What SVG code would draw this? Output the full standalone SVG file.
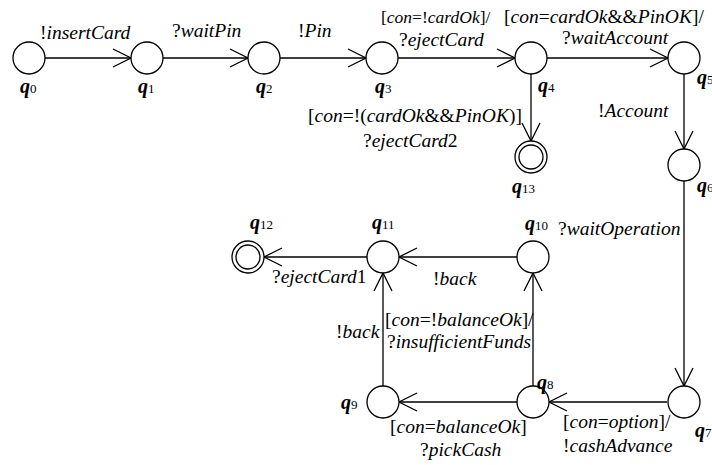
<svg xmlns="http://www.w3.org/2000/svg" width="712" height="465" viewBox="0 0 712 465" font-family="'Liberation Serif', 'Times New Roman', serif">
<style>
.n{fill:#fff;stroke:#000;stroke-width:1.3}
.e{fill:none;stroke:#000;stroke-width:1.3;marker-end:url(#arr)}
.lb{font-size:19.5px;fill:#000}
.it{font-style:italic}
.ql{font-size:20px;fill:#000}
.qq{font-style:italic;font-weight:bold}
.sub{font-size:13px}
</style>
<defs>
<marker id="arr" markerUnits="userSpaceOnUse" orient="auto" refX="0" refY="0" markerWidth="24" markerHeight="24" overflow="visible">
<path d="M-18,-9 L0,0 L-18,9" fill="none" stroke="#000" stroke-width="1.3"/>
</marker>
</defs>
<rect width="712" height="465" fill="#fff"/>
<g id="connectors">
<line class="e" x1="45" y1="58" x2="131" y2="58"/>
<line class="e" x1="163" y1="58" x2="248" y2="58"/>
<line class="e" x1="280" y1="58" x2="366" y2="58"/>
<line class="e" x1="398" y1="58" x2="515" y2="58"/>
<line class="e" x1="547" y1="58" x2="668" y2="58"/>
<line class="e" x1="531" y1="74" x2="531" y2="141"/>
<line class="e" x1="684" y1="74" x2="684" y2="149"/>
<line class="e" x1="684" y1="181" x2="684" y2="386"/>
<line class="e" x1="667" y1="402" x2="549" y2="402"/>
<line class="e" x1="517" y1="402" x2="399" y2="402"/>
<line class="e" x1="533" y1="386" x2="533" y2="273"/>
<line class="e" x1="383" y1="386" x2="383" y2="273"/>
<line class="e" x1="517" y1="257" x2="399" y2="257"/>
<line class="e" x1="367" y1="257" x2="264" y2="257"/>
</g>
<g id="edge-labels" class="lb">
<text class="lb" font-family="Liberation Serif" x="40" y="39">!<tspan class="it">insertCard</tspan></text>
<text class="lb" font-family="Liberation Serif" x="172" y="37">?<tspan class="it">waitPin</tspan></text>
<text class="lb" font-family="Liberation Serif" x="298" y="37">!<tspan class="it">Pin</tspan></text>
<text class="lb" font-family="Liberation Serif" font-size="17.5" style="font-size:17.5px" x="381" y="23">[<tspan class="it">con</tspan>=!<tspan class="it">cardOk</tspan>]/</text>
<text class="lb" font-family="Liberation Serif" x="399" y="46">?<tspan class="it">ejectCard</tspan></text>
<text class="lb" font-family="Liberation Serif" x="504" y="23">[<tspan class="it">con</tspan>=<tspan class="it">cardOk</tspan>&amp;&amp;<tspan class="it">PinOK</tspan>]/</text>
<text class="lb" font-family="Liberation Serif" x="562" y="44">?<tspan class="it">waitAccount</tspan></text>
<text class="lb" font-family="Liberation Serif" x="308" y="122">[<tspan class="it">con</tspan>=!(<tspan class="it">cardOk</tspan>&amp;&amp;<tspan class="it">PinOK</tspan>)]</text>
<text class="lb" font-family="Liberation Serif" x="363" y="147">?<tspan class="it">ejectCard</tspan>2</text>
<text class="lb" font-family="Liberation Serif" x="598" y="117">!<tspan class="it">Account</tspan></text>
<text class="lb" font-family="Liberation Serif" x="558" y="235">?<tspan class="it">waitOperation</tspan></text>
<text class="lb" font-family="Liberation Serif" x="433" y="285">!<tspan class="it">back</tspan></text>
<text class="lb" font-family="Liberation Serif" x="272" y="283">?<tspan class="it">ejectCard</tspan>1</text>
<text class="lb" font-family="Liberation Serif" x="336" y="338">!<tspan class="it">back</tspan></text>
<text class="lb" font-family="Liberation Serif" x="385" y="326">[<tspan class="it">con</tspan>=!<tspan class="it">balanceOk</tspan>]/</text>
<text class="lb" font-family="Liberation Serif" x="387" y="348">?<tspan class="it">insufficientFunds</tspan></text>
<text class="lb" font-family="Liberation Serif" x="390" y="433">[<tspan class="it">con</tspan>=<tspan class="it">balanceOk</tspan>]</text>
<text class="lb" font-family="Liberation Serif" x="420" y="456">?<tspan class="it">pickCash</tspan></text>
<text class="lb" font-family="Liberation Serif" x="563" y="428">[<tspan class="it">con</tspan>=<tspan class="it">option</tspan>]/</text>
<text class="lb" font-family="Liberation Serif" x="563" y="452">!<tspan class="it">cashAdvance</tspan></text>
</g>
<g id="q0"><circle class="n" cx="29" cy="58" r="16"/><text class="ql" font-family="Liberation Serif" x="20" y="93"><tspan class="qq">q</tspan><tspan class="sub">0</tspan></text></g>
<g id="q1"><circle class="n" cx="147" cy="58" r="16"/><text class="ql" font-family="Liberation Serif" x="138" y="93"><tspan class="qq">q</tspan><tspan class="sub">1</tspan></text></g>
<g id="q2"><circle class="n" cx="264" cy="58" r="16"/><text class="ql" font-family="Liberation Serif" x="256" y="93"><tspan class="qq">q</tspan><tspan class="sub">2</tspan></text></g>
<g id="q3"><circle class="n" cx="382" cy="58" r="16"/><text class="ql" font-family="Liberation Serif" x="375" y="93"><tspan class="qq">q</tspan><tspan class="sub">3</tspan></text></g>
<g id="q4"><circle class="n" cx="531" cy="58" r="16"/><text class="ql" font-family="Liberation Serif" x="538" y="92"><tspan class="qq">q</tspan><tspan class="sub">4</tspan></text></g>
<g id="q5"><circle class="n" cx="684" cy="58" r="16"/><text class="ql" font-family="Liberation Serif" x="697" y="84"><tspan class="qq">q</tspan><tspan class="sub">5</tspan></text></g>
<g id="q6"><circle class="n" cx="684" cy="165" r="16"/><text class="ql" font-family="Liberation Serif" x="697" y="192"><tspan class="qq">q</tspan><tspan class="sub">6</tspan></text></g>
<g id="q7"><circle class="n" cx="684" cy="402" r="16"/><text class="ql" font-family="Liberation Serif" x="695" y="437"><tspan class="qq">q</tspan><tspan class="sub">7</tspan></text></g>
<g id="q8"><circle class="n" cx="533" cy="402" r="16"/><text class="ql" font-family="Liberation Serif" x="537" y="389"><tspan class="qq">q</tspan><tspan class="sub">8</tspan></text></g>
<g id="q9"><circle class="n" cx="383" cy="402" r="16"/><text class="ql" font-family="Liberation Serif" x="341" y="409"><tspan class="qq">q</tspan><tspan class="sub">9</tspan></text></g>
<g id="q10"><circle class="n" cx="533" cy="257" r="16"/><text class="ql" font-family="Liberation Serif" x="525" y="230"><tspan class="qq">q</tspan><tspan class="sub">10</tspan></text></g>
<g id="q11"><circle class="n" cx="383" cy="257" r="16"/><text class="ql" font-family="Liberation Serif" x="372" y="229"><tspan class="qq">q</tspan><tspan class="sub">11</tspan></text></g>
<g id="q12"><circle class="n" cx="248" cy="257" r="16"/><circle class="n" cx="248" cy="257" r="12"/><text class="ql" font-family="Liberation Serif" x="250" y="229"><tspan class="qq">q</tspan><tspan class="sub">12</tspan></text></g>
<g id="q13"><circle class="n" cx="531" cy="157" r="16"/><circle class="n" cx="531" cy="157" r="12"/><text class="ql" font-family="Liberation Serif" x="512" y="193"><tspan class="qq">q</tspan><tspan class="sub">13</tspan></text></g>
</svg>
